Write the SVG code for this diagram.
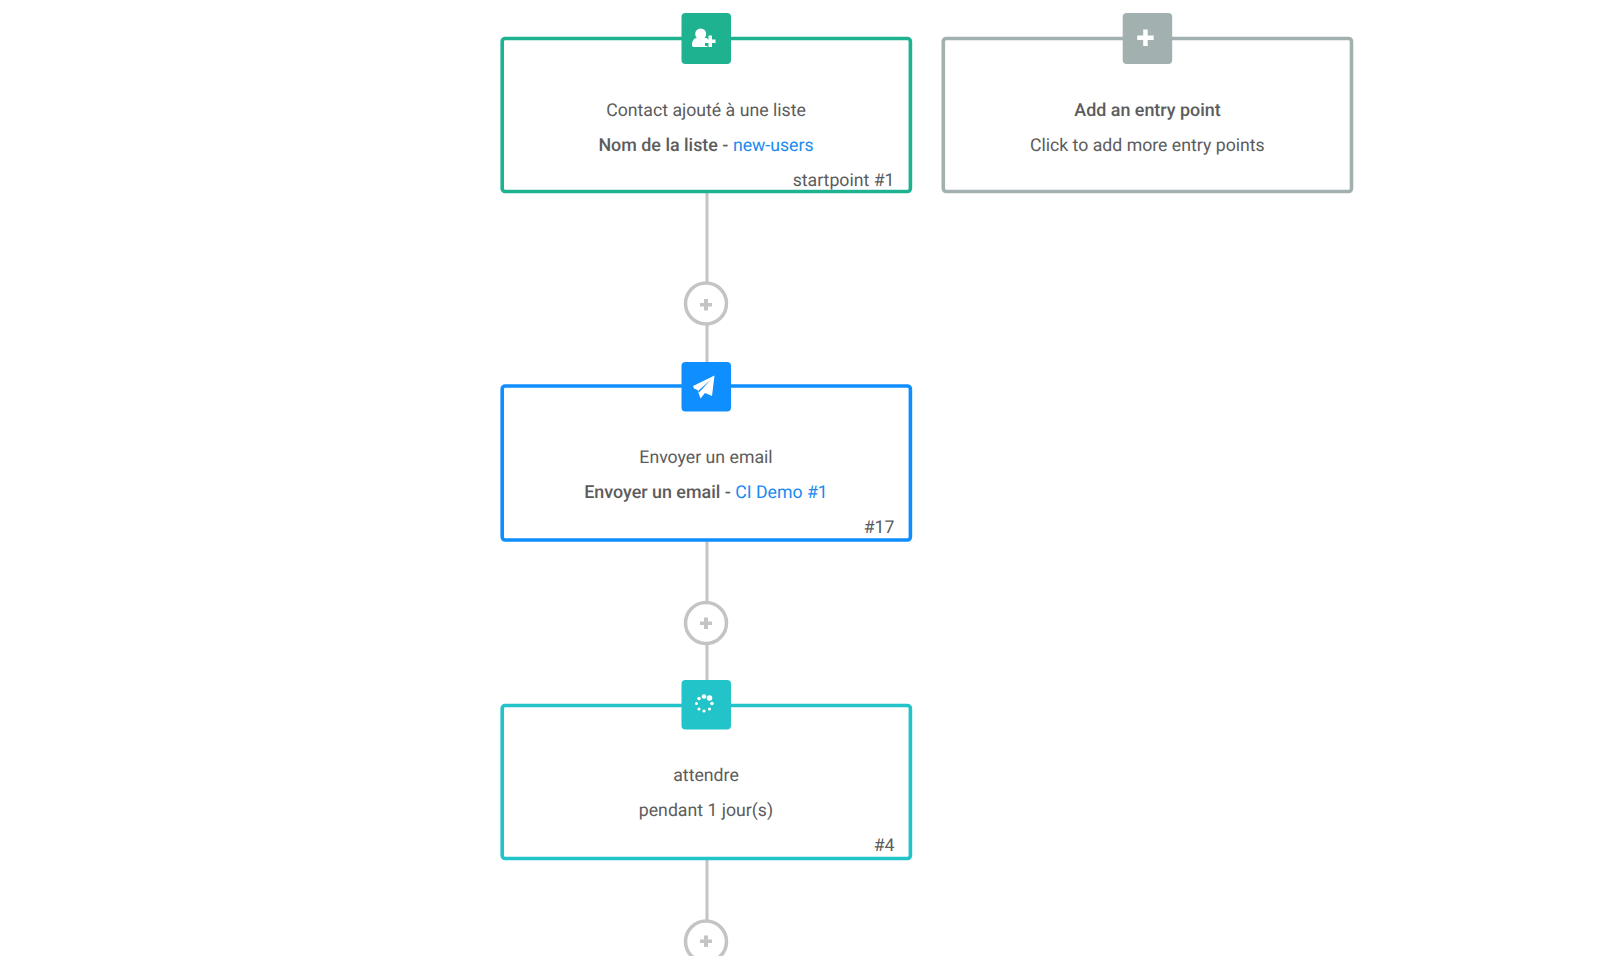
<svg xmlns="http://www.w3.org/2000/svg" width="1600" height="978" viewBox="0 0 1600 978">
<style>
text{font-family:Roboto,"Liberation Sans",sans-serif;font-size:17.7px;fill:#5c5c5c;text-anchor:middle;text-rendering:geometricPrecision}
.b{font-weight:500;font-size:17.9px}
.l{fill:#1a8bf0}
.e{text-anchor:end}
.box{fill:#fff;stroke-width:3.600}
.ic{stroke:none}
.w{fill:#fff}
.p{fill:#c4c4c4}
.add{fill:#fff;stroke:#c4c4c4;stroke-width:3.500}
</style>
<rect width="1600" height="978" fill="#fff"/>
<g id="connectors" fill="none" stroke="#c4c4c4" stroke-width="3">
<path d="M707 193V362M707 541V680M707 859V925"/>
</g>
<g id="node-start">
<rect class="box" x="502.200" y="38.500" width="408.200" height="153" rx="3" stroke="#1eb291"/>
<rect class="ic" x="681.500" y="13" width="49.500" height="51" rx="4" fill="#1eb291"/>
<circle class="w" cx="700.700" cy="34" r="5.500"/>
<path class="w" d="M693.500 47c-1 0-1.500-.7-1.500-2 0-4 2-7 4.500-7h8.500c1.500 0 2.500.5 3 1v3.500h-3v3.500h2.500v1z"/>
<path class="w" d="M708.500 35.500h3.500v4h3.500v3.500h-3.500v4h-3.500v-4h-3.500v-3.500h3.500z"/>
<text x="706" y="115.500">Contact ajouté à une liste</text>
<text x="706" y="150.500"><tspan class="b">Nom de la liste - </tspan><tspan class="l">new-users</tspan></text>
<text class="e" x="894.500" y="185.500">startpoint #1</text>
</g>
<g id="node-entry">
<rect class="box" x="943.300" y="38.500" width="408.200" height="153" rx="3" stroke="#a2b0b0"/>
<rect class="ic" x="1122.700" y="13" width="49.500" height="51" rx="4" fill="#a2b0b0"/>
<path class="w" d="M1143.200 29.500h4.500v6h6v4.500h-6v6h-4.500v-6h-6v-4.500h6z"/>
<text class="b" x="1147.500" y="115.500">Add an entry point</text>
<text x="1147.300" y="150.500">Click to add more entry points</text>
</g>
<g id="add-1">
<circle class="add" cx="706" cy="303.500" r="20.500"/>
<path class="p" d="M704 299h4v4h4v3.500h-4v4h-4v-4h-4v-3.500h4z"/>
</g>
<g id="node-email">
<rect class="box" x="502.200" y="386" width="408.200" height="154" rx="3" stroke="#0f8fff"/>
<rect class="ic" x="681.500" y="362" width="49.500" height="49.500" rx="4" fill="#0f8fff"/>
<path class="w" d="M714.500 375.500l-2.500 20.500-7-3-4.500 5.500-3-8.500-3.500-1.500-1-2.500z"/>
<path fill="#0f8fff" d="M711 379.500l-13 11.500 1 1.500z"/>
<text x="706" y="463">Envoyer un email</text>
<text x="706" y="498"><tspan class="b">Envoyer un email - </tspan><tspan class="l">CI Demo #1</tspan></text>
<text class="e" x="894.500" y="533">#17</text>
</g>
<g id="add-2">
<circle class="add" cx="706" cy="623" r="20.500"/>
<path class="p" d="M704 617.500h4v4h4v3.500h-4v4h-4v-4h-4v-3.500h4z"/>
</g>
<g id="node-wait">
<rect class="box" x="502.200" y="705.500" width="408.200" height="153" rx="3" stroke="#22c3c9"/>
<rect class="ic" x="681.500" y="680" width="49.500" height="49.500" rx="4" fill="#22c3c9"/>
<g class="w">
<circle cx="704" cy="696.500" r="2.300"/>
<circle cx="709.500" cy="698" r="2.800"/>
<circle cx="699" cy="698.500" r="1.800"/>
<circle cx="712" cy="703.500" r="1.800"/>
<circle cx="696.500" cy="703.500" r="1.500"/>
<circle cx="709.500" cy="709" r="1.600"/>
<circle cx="699" cy="709" r="1.600"/>
<circle cx="704" cy="711" r="1.600"/>
</g>
<text x="706" y="781">attendre</text>
<text x="706" y="816">pendant 1 jour(s)</text>
<text class="e" x="894.500" y="851">#4</text>
</g>
<g id="add-3">
<circle class="add" cx="706" cy="941.500" r="20.500"/>
<path class="p" d="M704 935.500h4v4h4v3.500h-4v4h-4v-4h-4v-3.500h4z"/>
<rect x="660" y="956" width="90" height="22" fill="#fff"/>
</g>
</svg>
